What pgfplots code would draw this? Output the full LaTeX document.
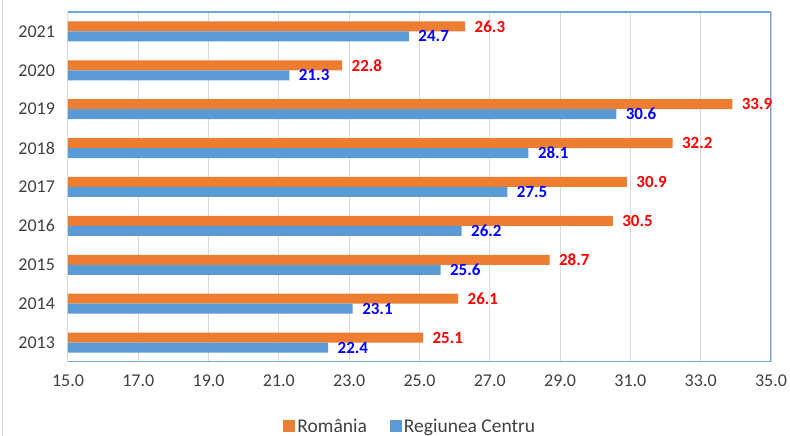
\documentclass[border=0pt]{standalone}
\usepackage{pgfplots}
\pgfplotsset{compat=1.18}
\usepackage{fontspec}
\setmainfont{Carlito}
\definecolor{orng}{HTML}{ED7D31}
\definecolor{blu}{HTML}{5B9BD5}
\definecolor{brd}{HTML}{6FA8DC}
\definecolor{grd}{HTML}{D9D9D9}
\definecolor{txt}{HTML}{404040}
\definecolor{lblred}{HTML}{FF0000}
\definecolor{lblblue}{HTML}{0000FF}
\begin{document}
\begin{tikzpicture}
\useasboundingbox (0,0) rectangle (790pt,436pt);
\draw[grd, line width=1pt] (2.5pt,0) -- (2.5pt,436pt);
\begin{axis}[
  at={(68pt,74pt)}, anchor=south west,
  scale only axis, width=703pt, height=350pt,
  xmin=15, xmax=35, ymin=-0.5, ymax=8.5,
  xbar, bar width=10pt,
  xtick={15,17,...,35},
  ytick={0,1,2,3,4,5,6,7,8},
  yticklabels={2013,2014,2015,2016,2017,2018,2019,2020,2021},
  /pgf/number format/assume math mode=true,
  xticklabel={\pgfmathprintnumber[fixed,fixed zerofill,precision=1]{\tick}},
  ticklabel style={font=\fontsize{18}{21}\selectfont, text=txt},
  xticklabel style={yshift=-9.5pt},
  yticklabel style={xshift=-9.5pt},
  major tick length=0pt,
  xmajorgrids, grid style={grd, line width=1pt},
  axis line style={draw=none},
  nodes near coords={\pgfmathprintnumber[fixed,fixed zerofill,precision=1]{\pgfplotspointmeta}},
  every node near coord/.append style={font=\fontsize{17}{20}\selectfont\bfseries, anchor=west, xshift=6pt},
  legend columns=2,
  legend style={draw=none, fill=none, at={(0.487,-0.183)}, anchor=center,
    font=\fontsize{19.5}{22}\selectfont, text=txt,
    /tikz/every even column/.append style={column sep=21pt}},
]
\addplot[fill=orng, draw=none, bar shift=5pt,
  every node near coord/.append style={text=lblred},
  legend image code/.code={\fill[orng] (0pt,-6pt) rectangle (12pt,6pt);}]
  coordinates {(25.1,0) (26.1,1) (28.7,2) (30.5,3) (30.9,4) (32.2,5) (33.9,6) (22.8,7) (26.3,8)};
\addlegendentry{România}
\addplot[fill=blu, draw=none, bar shift=-5pt,
  every node near coord/.append style={text=lblblue},
  legend image code/.code={\fill[blu] (0pt,-6pt) rectangle (12pt,6pt);}]
  coordinates {(22.4,0) (23.1,1) (25.6,2) (26.2,3) (27.5,4) (28.1,5) (30.6,6) (21.3,7) (24.7,8)};
\addlegendentry{Regiunea Centru}
\draw[brd, line width=1.2pt] (rel axis cs:0,1) -- (rel axis cs:1,1) -- (rel axis cs:1,0) -- (rel axis cs:0,0);
\end{axis}
\end{tikzpicture}
\end{document}
